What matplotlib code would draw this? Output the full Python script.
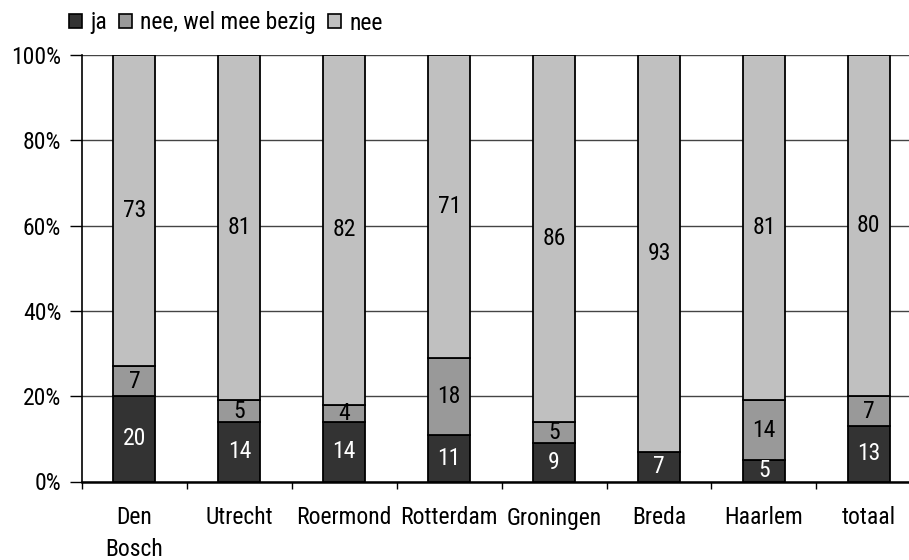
import matplotlib
matplotlib.use("Agg")
import matplotlib.pyplot as plt
from matplotlib.patches import Patch
from matplotlib import font_manager
import numpy as np

categories = ["Den\nBosch", "Utrecht", "Roermond", "Rotterdam", "Groningen", "Breda", "Haarlem", "totaal"]
ja = [20, 14, 14, 11, 9, 7, 5, 13]
bezig = [7, 5, 4, 18, 5, 0, 14, 7]
nee = [73, 81, 82, 71, 86, 93, 81, 80]
series_names = ["ja", "nee, wel mee bezig", "nee"]
yticks = [0, 20, 40, 60, 80, 100]
ytick_labels = ["0%", "20%", "40%", "60%", "80%", "100%"]

colors = ["#333333", "#999999", "#c0c0c0"]
label_colors = ["white", "black", "black"]

names = {f.name for f in font_manager.fontManager.ttflist}
fam = []
for cand in ["Liberation Sans Narrow", "Roboto Condensed", "DejaVu Sans Condensed"]:
    if cand in names:
        fam.append(cand)
fam.append("DejaVu Sans")
plt.rcParams["font.family"] = fam
fs = 17

fig = plt.figure(figsize=(9.09, 5.6), dpi=100)
ax = fig.add_axes([82/909, 1-481.5/560, 8*104.9/909, 426.5/560])

x = np.arange(len(categories))
data = [ja, bezig, nee]
bottom = np.zeros(len(categories))
for vals, c, lc, nm in zip(data, colors, label_colors, series_names):
    vals = np.array(vals, dtype=float)
    ax.bar(x, vals, 0.4, bottom=bottom, color=c, edgecolor="black", linewidth=1.3, label=nm, zorder=3)
    for xi, v, b in zip(x, vals, bottom):
        if v > 0:
            ax.text(xi, b + v/2, f"{int(v)}", ha="center", va="center", color=lc, fontsize=fs, zorder=4)
    bottom += vals

ax.set_xlim(-0.5, len(categories) - 0.5)
ax.set_ylim(0, 100)
ax.set_yticks(yticks)
ax.set_yticklabels(ytick_labels, fontsize=fs)
ax.set_xticks(x)
ax.set_xticklabels(categories, fontsize=fs, linespacing=1.45, va="top")
ax.set_xticks(np.arange(-0.5, len(categories), 1), minor=True)
ax.tick_params(axis="x", which="major", length=0, pad=18)
ax.tick_params(axis="x", which="minor", length=5, width=1, direction="out")
ax.tick_params(axis="y", length=9, width=1, direction="out", pad=6)
ax.yaxis.grid(True, color="#444444", linewidth=1, zorder=0)
for s in ["top", "right"]:
    ax.spines[s].set_visible(False)
ax.spines["left"].set_linewidth(1.2)
ax.spines["bottom"].set_linewidth(1.8)

handles = [Patch(facecolor=c, edgecolor="black", linewidth=1.2) for c in colors]
fig.legend(handles, series_names, loc="center left", bbox_to_anchor=(60/909, 1-23/560),
           ncol=3, frameon=False, fontsize=fs, handlelength=0.55, handleheight=0.55,
           handletextpad=0.35, columnspacing=0.5, borderaxespad=0)

fig.savefig("out.png", dpi=100)
